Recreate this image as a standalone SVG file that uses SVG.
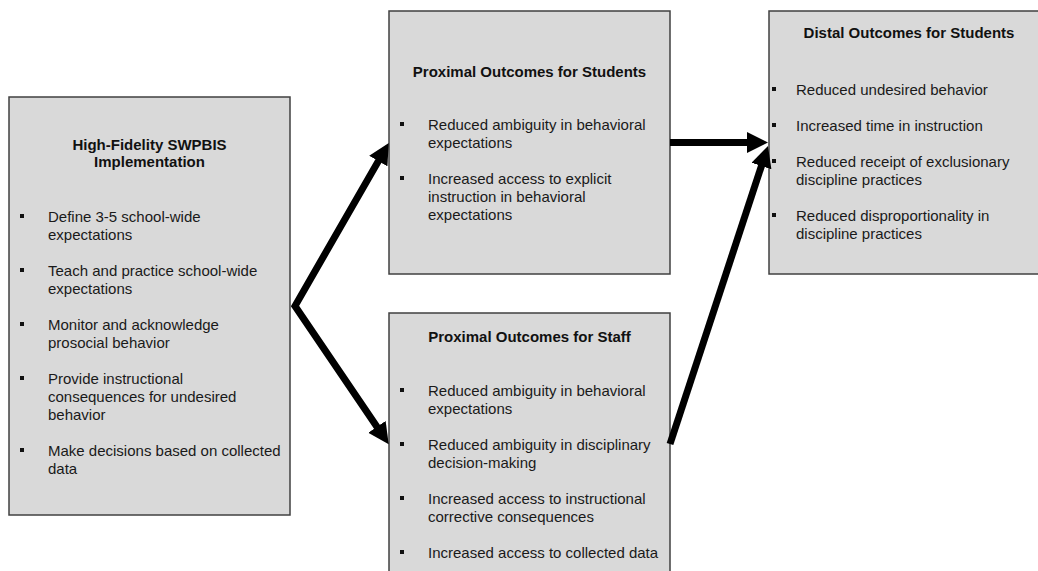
<svg xmlns="http://www.w3.org/2000/svg" width="1038" height="571" viewBox="0 0 1038 571">
<style>
.box{fill:#d9d9d9;stroke:#404040;stroke-width:1.5}
text{font-family:"Liberation Sans",Arial,sans-serif;font-size:15px;fill:#1a1a1a}
.t{font-weight:bold;text-anchor:middle;fill:#111}
.b{fill:#111}
.c{fill:none;stroke:#000;stroke-width:7;stroke-linejoin:miter;stroke-miterlimit:10}
</style>
<defs>
<marker id="ah" markerUnits="userSpaceOnUse" markerWidth="22" markerHeight="22" refX="6" refY="10.5" orient="auto-start-reverse" viewBox="0 0 22 22">
<path d="M0,0 L21,10.5 L0,21 z" fill="#000"/>
</marker>
</defs>
<rect width="1038" height="571" fill="#fff"/>
<g id="implementation">
<rect class="box" x="9" y="97" width="281" height="418"/>
<text class="t" x="149.5" y="150">High-Fidelity SWPBIS</text>
<text class="t" x="149.5" y="167">Implementation</text>
<rect class="b" x="20" y="214" width="4" height="4"/>
<text x="48" y="222">Define 3-5 school-wide</text>
<text x="48" y="240">expectations</text>
<rect class="b" x="20" y="268" width="4" height="4"/>
<text x="48" y="276">Teach and practice school-wide</text>
<text x="48" y="294">expectations</text>
<rect class="b" x="20" y="322" width="4" height="4"/>
<text x="48" y="330">Monitor and acknowledge</text>
<text x="48" y="348">prosocial behavior</text>
<rect class="b" x="20" y="376" width="4" height="4"/>
<text x="48" y="384">Provide instructional</text>
<text x="48" y="402">consequences for undesired</text>
<text x="48" y="420">behavior</text>
<rect class="b" x="20" y="448" width="4" height="4"/>
<text x="48" y="456">Make decisions based on collected</text>
<text x="48" y="474">data</text>
</g>
<g id="proximal-students">
<rect class="box" x="389" y="11" width="281" height="263"/>
<text class="t" x="529.5" y="77">Proximal Outcomes for Students</text>
<rect class="b" x="400" y="122" width="4" height="4"/>
<text x="428" y="130">Reduced ambiguity in behavioral</text>
<text x="428" y="148">expectations</text>
<rect class="b" x="400" y="176" width="4" height="4"/>
<text x="428" y="184">Increased access to explicit</text>
<text x="428" y="202">instruction in behavioral</text>
<text x="428" y="220">expectations</text>
</g>
<g id="proximal-staff">
<rect class="box" x="389" y="313" width="281" height="263"/>
<text class="t" x="529.5" y="342">Proximal Outcomes for Staff</text>
<rect class="b" x="400" y="388" width="4" height="4"/>
<text x="428" y="396">Reduced ambiguity in behavioral</text>
<text x="428" y="414">expectations</text>
<rect class="b" x="400" y="442" width="4" height="4"/>
<text x="428" y="450">Reduced ambiguity in disciplinary</text>
<text x="428" y="468">decision-making</text>
<rect class="b" x="400" y="496" width="4" height="4"/>
<text x="428" y="504">Increased access to instructional</text>
<text x="428" y="522">corrective consequences</text>
<rect class="b" x="400" y="550" width="4" height="4"/>
<text x="428" y="558">Increased access to collected data</text>
</g>
<g id="distal-students">
<rect class="box" x="769" y="11" width="281" height="263"/>
<text class="t" x="909" y="38">Distal Outcomes for Students</text>
<rect class="b" x="772" y="87" width="4" height="4"/>
<text x="796" y="95">Reduced undesired behavior</text>
<rect class="b" x="772" y="123" width="4" height="4"/>
<text x="796" y="131">Increased time in instruction</text>
<rect class="b" x="772" y="159" width="4" height="4"/>
<text x="796" y="167">Reduced receipt of exclusionary</text>
<text x="796" y="185">discipline practices</text>
<rect class="b" x="772" y="213" width="4" height="4"/>
<text x="796" y="221">Reduced disproportionality in</text>
<text x="796" y="239">discipline practices</text>
</g>
<g id="connectors">
<path class="c" d="M380.3,431.8 L295,306 L381.3,155.9" marker-start="url(#ah)" marker-end="url(#ah)"/>
<path class="c" d="M670,142.5 L753,142.5" marker-end="url(#ah)"/>
<path class="c" d="M670,444 L763.3,160.3" marker-end="url(#ah)"/>
</g>
</svg>
